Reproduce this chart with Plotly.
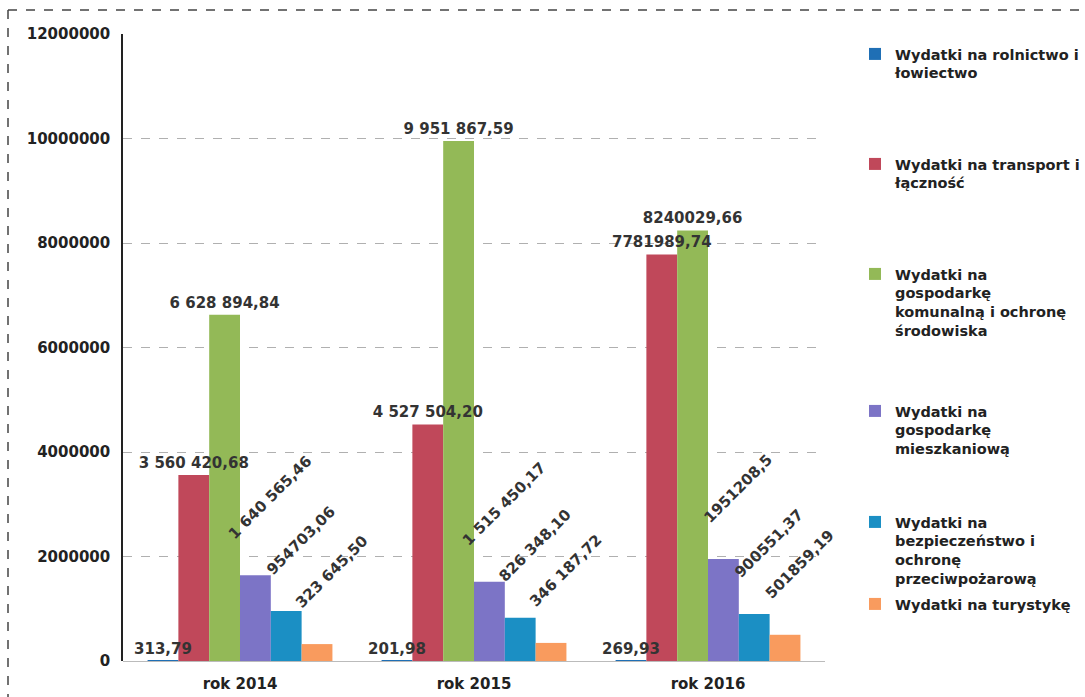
import plotly.graph_objects as go

years = ["rok 2014", "rok 2015", "rok 2016"]

names = [
    "Wydatki na rolnictwo i<br>łowiectwo",
    "Wydatki na transport i<br>łączność",
    "Wydatki na<br>gospodarkę<br>komunalną i ochronę<br>środowiska",
    "Wydatki na<br>gospodarkę<br>mieszkaniową",
    "Wydatki na<br>bezpieczeństwo i<br>ochronę<br>przeciwpożarową",
    "Wydatki na turystykę",
]

rolnictwo = [313.79, 201.98, 269.93]
transport = [3560420.68, 4527504.20, 7781989.74]
komunalna = [6628894.84, 9951867.59, 8240029.66]
mieszkaniowa = [1640565.46, 1515450.17, 1951208.5]
bezpieczenstwo = [954703.06, 826348.10, 900551.37]
turystyka = [323645.50, 346187.72, 501859.19]

lab_rolnictwo = ["313,79", "201,98", "269,93"]
lab_transport = ["3 560 420,68", "4 527 504,20", "7781989,74"]
lab_komunalna = ["6 628 894,84", "9 951 867,59", "8240029,66"]
lab_mieszkaniowa = ["1 640 565,46", "1 515 450,17", "1951208,5"]
lab_bezpieczenstwo = ["954703,06", "826 348,10", "900551,37"]
lab_turystyka = ["323 645,50", "346 187,72", "501859,19"]

colors = ["#1F6FB5", "#C0485A", "#93B957", "#7C74C6", "#1B8FC4", "#F99B5E"]
angles = [0, 0, 0, -45, -45, -45]
values = [rolnictwo, transport, komunalna, mieszkaniowa, bezpieczenstwo, turystyka]
labels = [lab_rolnictwo, lab_transport, lab_komunalna, lab_mieszkaniowa,
          lab_bezpieczenstwo, lab_turystyka]
legend_tops = [38, 148, 258, 395, 506, 588]  # px from top of page

W, H = 1085, 697
ML, MR, MT, MB = 123, 260, 34, 36
FONT = "DejaVu Sans"
YMAX = 12000000
PAD = "\u00a0" * 8  # rotated labels start at the bar top, like the source

fig = go.Figure()
# bars (no text)
for i in range(6):
    lg = "legend" if i == 0 else f"legend{i+1}"
    fig.add_trace(go.Bar(
        x=years, y=values[i], name=names[i],
        marker=dict(color=colors[i], line=dict(width=0)),
        legend=lg, hoverinfo="skip",
    ))
# transparent copies on an overlaid axis pair, carrying the value labels on top
for i in range(6):
    txt = [PAD + t for t in labels[i]] if angles[i] else labels[i]
    fig.add_trace(go.Bar(
        x=years, y=values[i], name=names[i], showlegend=False,
        xaxis="x2", yaxis="y2",
        marker=dict(color="rgba(0,0,0,0)", line=dict(width=0)),
        text=txt, textposition="outside", textangle=angles[i],
        constraintext="none", cliponaxis=False, hoverinfo="skip",
        textfont=dict(family=FONT, size=15, color="#333333", weight="bold"),
    ))

layout_legends = {}
for i in range(6):
    key = "legend" if i == 0 else f"legend{i+1}"
    layout_legends[key] = dict(
        xref="container", yref="container",
        x=855 / W, y=1 - legend_tops[i] / H,
        xanchor="left", yanchor="top",
        bgcolor="rgba(0,0,0,0)", valign="top", itemwidth=30,
        font=dict(family=FONT, size=14.5, color="#222222", weight="bold"),
    )

fig.update_layout(
    width=W, height=H, showlegend=True,
    margin=dict(l=ML, r=MR, t=MT, b=MB, autoexpand=False),
    paper_bgcolor="white", plot_bgcolor="white",
    barmode="group", bargap=0.21, bargroupgap=0,
    font=dict(family=FONT, size=15, color="#222222"),
    xaxis=dict(
        showgrid=False, showline=False, ticks="", ticklabelstandoff=12,
        automargin=False,
        tickfont=dict(family=FONT, size=15, color="#222222", weight="bold"),
    ),
    yaxis=dict(
        range=[0, YMAX], dtick=2000000, tickformat="d", automargin=False,
        showgrid=True, gridcolor="#b0b0b0", griddash="dash", gridwidth=1,
        showline=True, linecolor="#222222", linewidth=1.5,
        zeroline=True, zerolinecolor="#bbbbbb", zerolinewidth=1,
        ticks="", ticklabelstandoff=8,
        tickfont=dict(family=FONT, size=15, color="#222222", weight="bold"),
    ),
    xaxis2=dict(overlaying="x", matches="x", visible=False),
    yaxis2=dict(overlaying="y", range=[0, YMAX], visible=False),
    **layout_legends,
)

# scanned frame border (left and top)
px_x = lambda p: (p - ML) / (W - ML - MR)
px_y = lambda p: (H - MB - p) / (H - MT - MB)
fig.add_shape(type="line", xref="paper", yref="paper",
              x0=px_x(8), x1=px_x(8), y0=px_y(10), y1=px_y(700),
              line=dict(color="#444444", width=1.5, dash="dash"))
fig.add_shape(type="line", xref="paper", yref="paper",
              x0=px_x(8), x1=px_x(1090), y0=px_y(10), y1=px_y(10),
              line=dict(color="#444444", width=1.5, dash="dash"))

fig.write_html(
    "out.html",
    config={"displayModeBar": False},
    post_script="document.body.style.margin='0';document.body.style.padding='0';",
)
